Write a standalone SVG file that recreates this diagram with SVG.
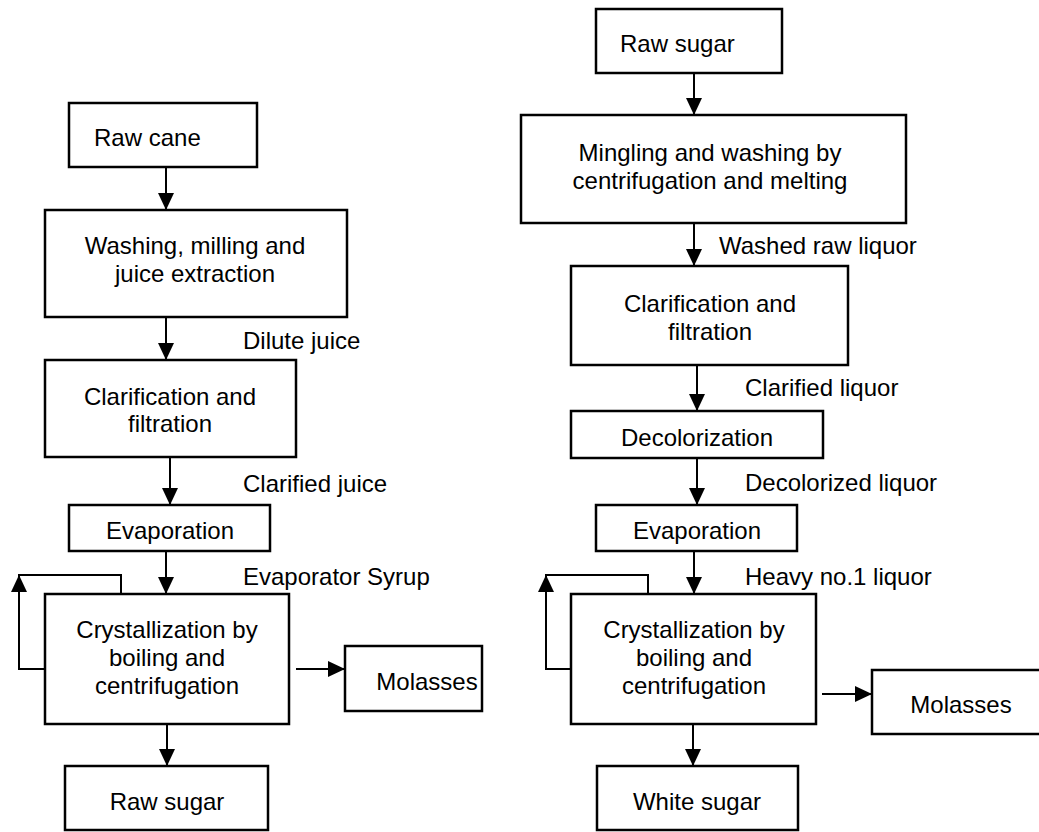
<svg xmlns="http://www.w3.org/2000/svg" width="1039" height="832" viewBox="0 0 1039 832">
<defs>
<marker id="ah" markerUnits="userSpaceOnUse" markerWidth="17" markerHeight="16" refX="17" refY="8" orient="auto"><path d="M0,0 L17,8 L0,16 z" fill="#000"/></marker>
<style>
.box{fill:#fff;stroke:#000;stroke-width:2.5}
.t{font-family:"Liberation Sans",Arial,sans-serif;font-size:24px;fill:#000}
.m{text-anchor:middle}
.c{fill:none;stroke:#000;stroke-width:2}
</style>
</defs>
<rect width="1039" height="832" fill="#fff"/>
<g id="connectors">
<path class="c" d="M166,167 V210" marker-end="url(#ah)"/>
<path class="c" d="M166,317 V360" marker-end="url(#ah)"/>
<path class="c" d="M170,457 V505" marker-end="url(#ah)"/>
<path class="c" d="M166,551 V594" marker-end="url(#ah)"/>
<path class="c" d="M121,598 V575 H19 V669 H45"/>
<path class="c" d="M19,600 V575" marker-end="url(#ah)"/>
<path class="c" d="M296,669 H345" marker-end="url(#ah)"/>
<path class="c" d="M167,724 V766" marker-end="url(#ah)"/>
<path class="c" d="M694,73 V115" marker-end="url(#ah)"/>
<path class="c" d="M694,223 V266" marker-end="url(#ah)"/>
<path class="c" d="M697,365 V411" marker-end="url(#ah)"/>
<path class="c" d="M697,458 V505" marker-end="url(#ah)"/>
<path class="c" d="M694,551 V594" marker-end="url(#ah)"/>
<path class="c" d="M648,598 V575 H546 V669 H571"/>
<path class="c" d="M546,600 V575" marker-end="url(#ah)"/>
<path class="c" d="M822,694 H872" marker-end="url(#ah)"/>
<path class="c" d="M693,724 V766" marker-end="url(#ah)"/>
<text class="t" x="243" y="349">Dilute juice</text>
<text class="t" x="243" y="492">Clarified juice</text>
<text class="t" x="243" y="585">Evaporator Syrup</text>
<text class="t" x="719" y="254">Washed raw liquor</text>
<text class="t" x="745" y="396">Clarified liquor</text>
<text class="t" x="745" y="491">Decolorized liquor</text>
<text class="t" x="745" y="585">Heavy no.1 liquor</text>
</g>
<g id="raw-cane"><rect class="box" x="69" y="103" width="188" height="64"/><text class="t" x="94" y="146">Raw cane</text></g>
<g id="washing"><rect class="box" x="45" y="210" width="302" height="107"/><text class="t m" x="195" y="254">Washing, milling and</text><text class="t m" x="195" y="282">juice extraction</text></g>
<g id="clarification-left"><rect class="box" x="45" y="360" width="251" height="97"/><text class="t m" x="170" y="405">Clarification and</text><text class="t m" x="170" y="432">filtration</text></g>
<g id="evaporation-left"><rect class="box" x="69" y="505" width="201" height="46"/><text class="t m" x="170" y="539">Evaporation</text></g>
<g id="crystallization-left"><rect class="box" x="45" y="594" width="244" height="130"/><text class="t m" x="167" y="638">Crystallization by</text><text class="t m" x="167" y="666">boiling and</text><text class="t m" x="167" y="694">centrifugation</text></g>
<g id="molasses-left"><rect class="box" x="345" y="646" width="137" height="65"/><text class="t m" x="427" y="690">Molasses</text></g>
<g id="raw-sugar-left"><rect class="box" x="65" y="766" width="203" height="64"/><text class="t m" x="167" y="810">Raw sugar</text></g>
<g id="raw-sugar-right"><rect class="box" x="596" y="9" width="186" height="64"/><text class="t" x="620" y="52">Raw sugar</text></g>
<g id="mingling"><rect class="box" x="521" y="115" width="385" height="108"/><text class="t m" x="710" y="161">Mingling and washing by</text><text class="t m" x="710" y="189">centrifugation and melting</text></g>
<g id="clarification-right"><rect class="box" x="571" y="266" width="277" height="99"/><text class="t m" x="710" y="312">Clarification and</text><text class="t m" x="710" y="340">filtration</text></g>
<g id="decolorization"><rect class="box" x="571" y="411" width="252" height="47"/><text class="t m" x="697" y="446">Decolorization</text></g>
<g id="evaporation-right"><rect class="box" x="596" y="505" width="201" height="46"/><text class="t m" x="697" y="539">Evaporation</text></g>
<g id="crystallization-right"><rect class="box" x="571" y="594" width="245" height="130"/><text class="t m" x="694" y="638">Crystallization by</text><text class="t m" x="694" y="666">boiling and</text><text class="t m" x="694" y="694">centrifugation</text></g>
<g id="molasses-right"><rect class="box" x="872" y="670" width="175" height="64"/><text class="t m" x="961" y="713">Molasses</text></g>
<g id="white-sugar"><rect class="box" x="597" y="766" width="201" height="64"/><text class="t m" x="697" y="810">White sugar</text></g>
</svg>
